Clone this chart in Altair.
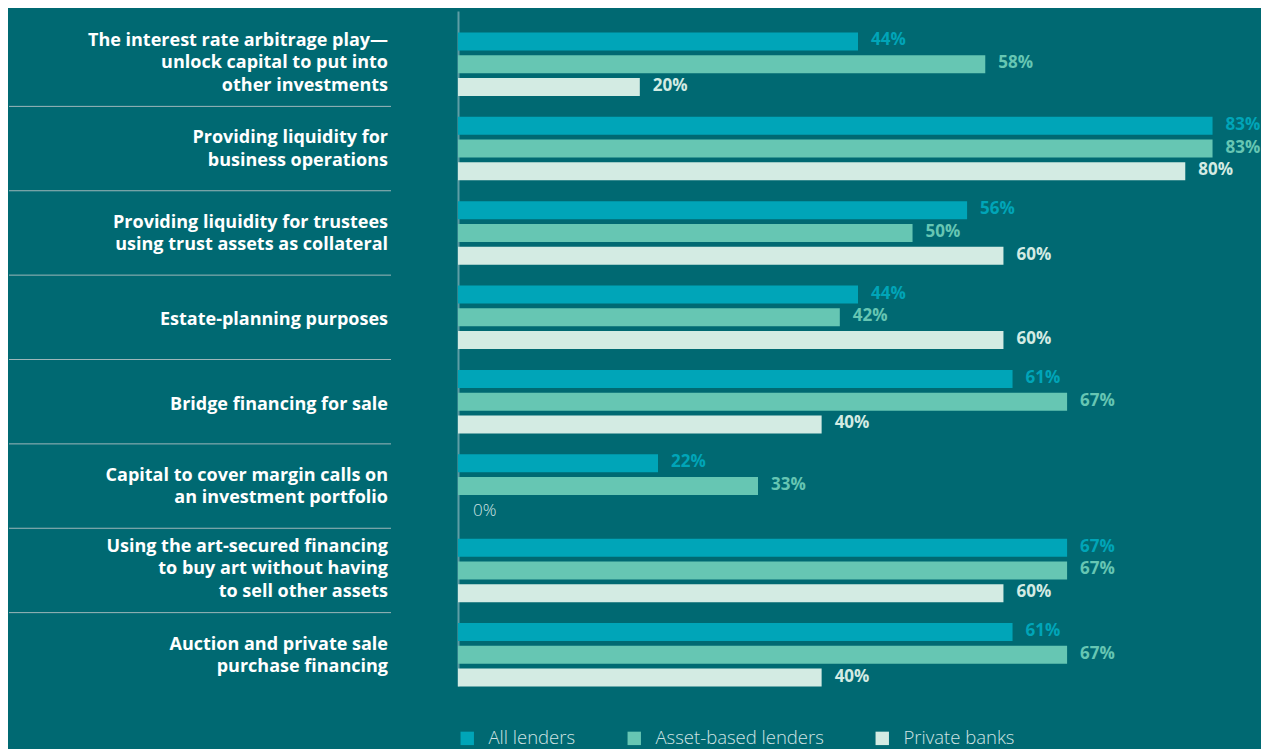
import altair as alt
import pandas as pd

categories = [
    "The interest rate arbitrage play\u2014\nunlock capital to put into\nother investments",
    "Providing liquidity for\u00a0\nbusiness operations",
    "Providing liquidity for trustees\nusing trust assets as collateral",
    "Estate-planning purposes",
    "Bridge financing for sale",
    "Capital to cover margin calls on\nan investment portfolio",
    "Using the art-secured financing\nto buy art without having\nto sell other assets",
    "Auction and private sale\npurchase financing",
]
series = ["All lenders", "Asset-based lenders", "Private banks"]
all_lenders = [44, 83, 56, 44, 61, 22, 67, 61]
asset_based = [58, 83, 50, 42, 67, 33, 67, 67]
private_banks = [20, 80, 60, 60, 40, 0, 60, 40]
colors = ["#00a5b8", "#66c6b3", "#d3ebe3"]

BG = "#006972"

rows = []
for s, vals in zip(series, [all_lenders, asset_based, private_banks]):
    for c, v in zip(categories, vals):
        rows.append({"category": c, "series": s, "value": v, "label": f"{v}%"})
df = pd.DataFrame(rows)
cat_df = pd.DataFrame({"category": categories,
                       "lines": [c.count("\n") + 1 for c in categories]})
sep_df = pd.DataFrame({"category": categories[:-1]})

y_enc = alt.Y(
    "category:N",
    sort=categories,
    scale=alt.Scale(paddingInner=0, paddingOuter=0),
    axis=alt.Axis(labels=False, ticks=False, title=None, domain=True,
                  domainColor="#5e9ea5", domainWidth=2, translate=-10.5, offset=-11),
)
yoff = alt.YOffset("series:N", sort=series,
                   scale=alt.Scale(paddingInner=0.21, paddingOuter=0.46))
x_scale = alt.Scale(domain=[0, 88], nice=False, zero=True)

base = alt.Chart(df)

bars = base.mark_bar().encode(
    y=y_enc,
    yOffset=yoff,
    x=alt.X("value:Q", scale=x_scale, axis=None),
    color=alt.Color("series:N", sort=series,
                    scale=alt.Scale(domain=series, range=colors),
                    legend=alt.Legend(title=None)),
)

labels = base.transform_filter("datum.value > 0").mark_text(
    align="left", baseline="middle", dx=13, dy=-1, font="Open Sans",
    fontSize=17, fontWeight="bold"
).encode(
    y=alt.Y("category:N", sort=categories),
    yOffset=yoff,
    x=alt.X("value:Q", scale=x_scale),
    text="label:N",
    color=alt.Color("series:N", sort=series, legend=None),
)

zero_labels = base.transform_filter("datum.value == 0").mark_text(
    align="left", baseline="middle", dx=15, dy=2, font="Open Sans",
    fontSize=17, fontWeight=300, color="#cfe3e3"
).encode(
    y=alt.Y("category:N", sort=categories),
    yOffset=yoff,
    x=alt.X("value:Q", scale=x_scale),
    text="label:N",
)

LINE_H = 22.5
shift = {1: 3, 2: 1, 3: -1}
cat_layers = []
for n in (1, 2, 3):
    cat_layers.append(
        alt.Chart(cat_df).transform_filter(f"datum.lines == {n}").mark_text(
            align="right", baseline="middle", lineBreak="\n", lineHeight=LINE_H,
            dy=-(n - 1) * LINE_H / 2 + shift[n],
            font="Open Sans", fontSize=18, fontWeight="bold", color="#ffffff"
        ).encode(
            y=alt.Y("category:N", sort=categories),
            x=alt.value(-70),
            text="category:N",
        )
    )

seps = alt.Chart(sep_df).mark_rule(color="#9db7ba", strokeWidth=1).encode(
    y=alt.Y("category:N", sort=categories, bandPosition=1),
    x=alt.value(-449),
    x2=alt.value(-67),
)

chart = alt.layer(seps, *cat_layers, bars, labels, zero_labels).properties(
    width=800, height=675, background=BG,
    padding={"left": 0, "top": 14, "right": 0, "bottom": 12},
).configure_view(stroke=None).configure_legend(
    orient="bottom", direction="horizontal", symbolType="square",
    symbolSize=180, symbolStrokeWidth=0, labelFont="Open Sans",
    labelFontSize=18.5, labelFontWeight=300, labelColor="#cfe3e3",
    columnPadding=49, labelOffset=12, offset=32, padding=0,
    labelLimit=400,
)

chart.save("out.html", embed_options={"renderer": "svg", "actions": False})
